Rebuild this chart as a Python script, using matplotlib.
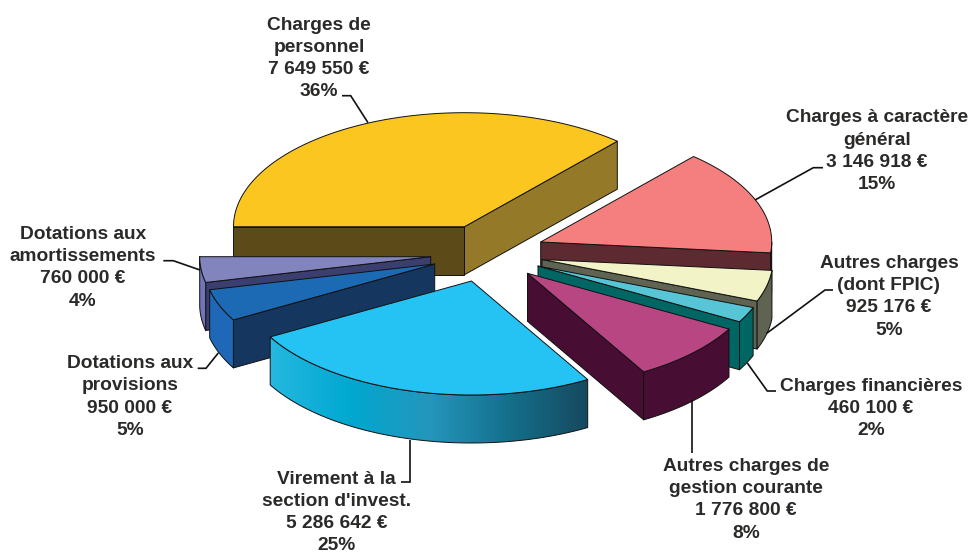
import numpy as np
import matplotlib
matplotlib.use("Agg")
import matplotlib.pyplot as plt
from matplotlib.colors import LinearSegmentedColormap
from matplotlib.patches import Polygon

# --- data (clockwise from the left edge of the first slice)
categories = ["Charges de personnel", "Charges à caractère général",
              "Autres charges (dont FPIC)", "Charges financières",
              "Autres charges de gestion courante", "Virement à la section d'invest.",
              "Dotations aux provisions", "Dotations aux amortissements"]
values = [7649550, 3146918, 925176, 460100, 1776800, 5286642, 950000, 760000]
value_labels = ["7 649 550 €", "3 146 918 €", "925 176 €", "460 100 €",
                "1 776 800 €", "5 286 642 €", "950 000 €", "760 000 €"]
pct_labels = ["36%", "15%", "5%", "2%", "8%", "25%", "5%", "4%"]

# --- layout / style
W, H = 970, 554
RX, RY, DEPTH = 231, 114, 48
centers = [(464.5, 226.7), (540.7, 242), (542, 259.5), (538, 266),
           (527.5, 273.3), (471.5, 281), (434.7, 264), (430.7, 256.7)]
top_colors = ["#FBC620", "#F57F7F", "#F2F3C6", "#57C5D5", "#B84682", "#25C2F4", "#1C69B4", "#8284BE"]
outer_colors = ["#947A28", "#5C2A30", "#5F6352", "#006663", "#470D33", None, "#1F68B8", "#7274B8"]
hi_face_colors = ["#5C4A18", "#5C2A30", "#5F6352", "#006663", "#470D33", "#14365F", "#14365F", "#3A3F70"]
lo_face_colors = ["#947A28", "#5C2A30", "#5F6352", "#006663", "#470D33", "#14365F", "#14365F", "#3A3F70"]
draw_order = [0, 7, 6, 5, 1, 2, 3, 4]

blue_side = LinearSegmentedColormap.from_list(
    "blue_side", ["#25B8E0", "#00A8D0", "#2596BC", "#14708C", "#17495F"])

label_lines = [["Charges de", "personnel"], ["Charges à caractère", "général"],
               ["Autres charges", "(dont FPIC)"], ["Charges financières"],
               ["Autres charges de", "gestion courante"], ["Virement à la", "section d'invest."],
               ["Dotations aux", "provisions"], ["Dotations aux", "amortissements"]]
label_x = [319, 877, 889, 871, 746, 336.7, 130, 82.7]
label_y0 = [29.5, 122.5, 268, 390.7, 471, 483.8, 368.3, 239]
LINE_H = 22.2
leaders = [[(368, 122.7), (350.7, 95.7), (342, 95.7)],
           [(755, 200), (813.3, 167.7), (823, 167.7)],
           [(766.7, 333.3), (825, 290), (833, 290)],
           [(747.3, 363), (767.3, 391), (776, 391)],
           [(691.7, 400), (691.7, 452.7)],
           [(410.3, 440), (410.3, 482.3), (400.7, 482.3)],
           [(218.3, 353), (206, 368.3), (197.7, 368.3)],
           [(200, 270), (173.3, 260.7), (163.3, 260.7)]]
TEXT_COLOR = "#2B2A29"

fig = plt.figure(figsize=(W / 100, H / 100), dpi=100, facecolor="white")
ax = fig.add_axes([0, 0, 1, 1])
ax.axis("off")

fractions = np.array(values, dtype=float) / sum(values)
sweep = fractions * 360
t_hi = 180 - np.concatenate([[0], np.cumsum(sweep)[:-1]])
t_lo = t_hi - sweep


def pt(c, t, dz=0):
    r = np.radians(t)
    return c[0] + RX * np.cos(r), c[1] - RY * np.sin(r) + dz


def poly(points, fc, lw=0.7, ec="#111111", z=1):
    p = Polygon(points, closed=True, facecolor=fc, edgecolor=ec, linewidth=lw,
                joinstyle="round", zorder=z)
    ax.add_patch(p)
    return p


z = 1
for i in draw_order:
    c, hi, lo = centers[i], t_hi[i], t_lo[i]
    # radial faces that look towards the viewer
    if np.cos(np.radians(hi)) < 0:
        p = pt(c, hi)
        poly([c, p, (p[0], p[1] + DEPTH), (c[0], c[1] + DEPTH)], hi_face_colors[i], z=z)
    if np.cos(np.radians(lo)) > 0:
        p = pt(c, lo)
        poly([c, p, (p[0], p[1] + DEPTH), (c[0], c[1] + DEPTH)], lo_face_colors[i], z=z)
    z += 1
    # curved outer wall (lower half of the ellipse only)
    a = min(hi, 0)
    b = max(lo, -180)
    if a > b:
        ts = np.linspace(b, a, 121)
        upper = [pt(c, t) for t in ts]
        lower = [pt(c, t, DEPTH) for t in ts[::-1]]
        if outer_colors[i] is None:
            outline = poly(upper + lower, "none", z=z + 1)
            xs = [q[0] for q in upper]
            ys = [q[1] for q in upper + lower]
            im = ax.imshow(np.linspace(0, 1, 256)[None, :], cmap=blue_side, aspect="auto",
                           extent=(min(xs), max(xs), max(ys), min(ys)), zorder=z,
                           interpolation="bilinear")
            im.set_clip_path(outline)
            z += 1
        else:
            poly(upper + lower, outer_colors[i], z=z)
        z += 1
    # top face
    ts = np.linspace(hi, lo, 181)
    poly([c] + [pt(c, t) for t in ts], top_colors[i], z=z)
    z += 1

for i in range(len(values)):
    pts = np.array(leaders[i])
    ax.plot(pts[:, 0], pts[:, 1], color="#111111", lw=1.2, zorder=z,
            solid_joinstyle="miter", solid_capstyle="butt")
    lines = label_lines[i] + [value_labels[i], pct_labels[i]]
    for k, s in enumerate(lines):
        ax.text(label_x[i], label_y0[i] + k * LINE_H, s, ha="center", va="baseline",
                family="Liberation Sans", weight="bold", fontsize=13.8, color=TEXT_COLOR, zorder=z + 1)

ax.set_xlim(0, W)
ax.set_ylim(H, 0)
fig.savefig("out.png", dpi=100)
